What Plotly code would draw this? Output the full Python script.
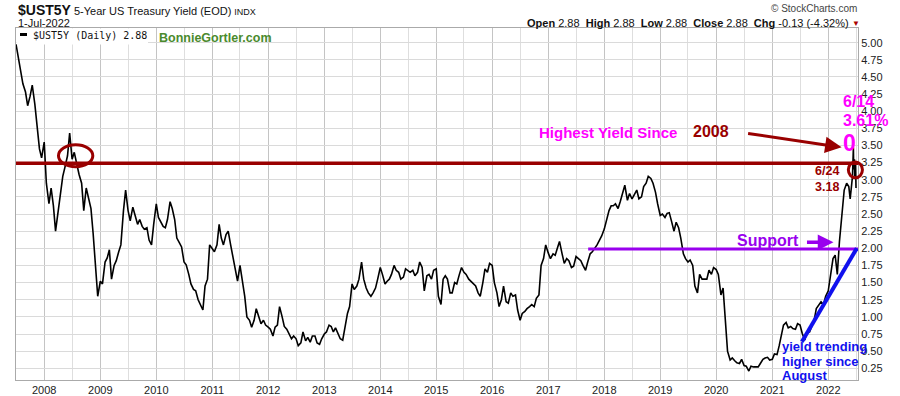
import pandas as pd
import plotly.graph_objects as go

# ---------------- data (semi-monthly: 1st & 15th) ----------------
y2007 = [4.98, 4.80, 4.60, 4.40, 4.28, 4.08, 4.22, 4.38, 4.10, 3.80, 3.45, 3.32]
y2008 = [3.55, 2.95, 2.65, 2.88, 2.62, 2.25, 2.55, 2.80, 3.05, 3.18, 3.35, 3.68,
         3.30, 3.40, 3.22, 3.08, 2.95, 2.55, 2.88, 2.72, 2.58, 2.22, 1.72, 1.30]
y2009 = [1.52, 1.48, 1.80, 1.86, 1.98, 1.55, 1.75, 1.82, 1.95, 2.05, 2.55, 2.85,
         2.55, 2.40, 2.60, 2.48, 2.35, 2.42, 2.32, 2.28, 2.30, 2.12, 2.05, 2.35]
y2010 = [2.65, 2.45, 2.38, 2.32, 2.30, 2.42, 2.68, 2.58, 2.42, 2.15, 2.08, 2.02,
         1.80, 1.76, 1.62, 1.48, 1.40, 1.38, 1.25, 1.18, 1.10, 1.45, 1.55, 2.05]
y2011 = [2.00, 1.95, 2.05, 2.35, 2.15, 2.05, 2.20, 2.25, 2.05, 1.90, 1.70, 1.52,
         1.75, 1.55, 1.30, 1.00, 0.95, 0.85, 0.95, 1.12, 1.00, 0.90, 0.95, 0.88]
y2012 = [0.85, 0.82, 0.72, 0.85, 0.88, 1.15, 1.00, 0.86, 0.82, 0.75, 0.68, 0.72,
         0.68, 0.58, 0.62, 0.78, 0.65, 0.70, 0.63, 0.72, 0.72, 0.62, 0.60, 0.68]
y2013 = [0.75, 0.78, 0.88, 0.86, 0.78, 0.84, 0.76, 0.68, 0.66, 0.85, 1.05, 1.15,
         1.48, 1.40, 1.45, 1.55, 1.80, 1.55, 1.42, 1.35, 1.30, 1.35, 1.42, 1.55]
y2014 = [1.72, 1.62, 1.48, 1.52, 1.55, 1.62, 1.75, 1.68, 1.65, 1.55, 1.58, 1.70,
         1.68, 1.65, 1.68, 1.60, 1.65, 1.80, 1.72, 1.38, 1.60, 1.62, 1.55, 1.68]
y2015 = [1.70, 1.30, 1.18, 1.55, 1.60, 1.55, 1.35, 1.35, 1.50, 1.48, 1.62, 1.72,
         1.65, 1.62, 1.55, 1.52, 1.48, 1.45, 1.35, 1.30, 1.50, 1.70, 1.65, 1.78]
y2016 = [1.75, 1.50, 1.35, 1.15, 1.25, 1.45, 1.22, 1.20, 1.35, 1.30, 1.32, 1.10,
         0.95, 1.05, 1.08, 1.12, 1.15, 1.18, 1.15, 1.27, 1.32, 1.75, 1.85, 2.05]
y2017 = [1.93, 1.85, 1.92, 1.90, 2.00, 2.10, 1.92, 1.78, 1.85, 1.82, 1.72, 1.74,
         1.88, 1.85, 1.82, 1.75, 1.68, 1.80, 1.92, 1.95, 2.00, 2.05, 2.12, 2.18]
y2018 = [2.28, 2.42, 2.55, 2.62, 2.62, 2.65, 2.58, 2.68, 2.80, 2.92, 2.70, 2.80,
         2.72, 2.78, 2.85, 2.72, 2.75, 2.90, 2.95, 3.05, 3.02, 2.95, 2.82, 2.65]
y2019 = [2.48, 2.50, 2.45, 2.51, 2.52, 2.40, 2.25, 2.38, 2.30, 2.15, 1.92, 1.85,
         1.80, 1.83, 1.75, 1.45, 1.35, 1.62, 1.55, 1.55, 1.55, 1.68, 1.62, 1.72]
y2020 = [1.69, 1.62, 1.32, 1.42, 0.90, 0.50, 0.37, 0.40, 0.36, 0.33, 0.32, 0.38,
         0.29, 0.28, 0.21, 0.28, 0.27, 0.27, 0.27, 0.32, 0.38, 0.40, 0.41, 0.37]
y2021 = [0.38, 0.46, 0.45, 0.58, 0.75, 0.88, 0.92, 0.84, 0.86, 0.83, 0.82, 0.90,
         0.88, 0.76, 0.66, 0.78, 0.78, 0.86, 0.95, 1.12, 1.18, 1.22, 1.18, 1.30]
y2022 = [1.38, 1.58, 1.85, 1.90, 1.62, 2.10, 2.55, 2.85, 2.95, 2.90]

tail_dates = ["2022-05-24", "2022-06-01", "2022-06-08", "2022-06-14", "2022-06-16",
              "2022-06-21", "2022-06-23", "2022-06-24", "2022-06-28", "2022-06-30",
              "2022-07-01"]
tail_vals = [2.72, 2.95, 3.05, 3.47, 3.15, 3.30, 3.05, 3.18, 3.22, 3.00, 2.88]

year_ticks = [str(y) for y in range(2008, 2023)]
resistance_level = 3.24
support_level = 1.99

semi_dates = pd.date_range("2007-07-01", "2022-05-15", freq="SMS")
semi_vals = (y2007 + y2008 + y2009 + y2010 + y2011 + y2012 + y2013 + y2014 +
             y2015 + y2016 + y2017 + y2018 + y2019 + y2020 + y2021 + y2022)
assert len(semi_dates) == len(semi_vals), (len(semi_dates), len(semi_vals))
dates = list(semi_dates.strftime("%Y-%m-%d")) + tail_dates
values = semi_vals + tail_vals

# ---------------- layout geometry ----------------
W, H = 900, 396
ML, MR, MT, MB = 16, 42, 28, 16
PW, PH = W - ML - MR, H - MT - MB
X0, X1 = "2007-07-01", "2022-07-14"
Y0, Y1 = 0.079, 5.214


def px(x):
    return (x - ML) / PW


def py(y):
    return (H - MB - y) / PH


def xp(d):
    return (pd.Timestamp(d) - pd.Timestamp(X0)) / (pd.Timestamp(X1) - pd.Timestamp(X0))


FONT = "Arial, Liberation Sans, sans-serif"
MAG = "#ff00ff"
DRED = "#990000"
PURP = "#9900ee"
BLUE = "#1010ee"

fig = go.Figure()
fig.add_trace(go.Scatter(x=dates, y=values, mode="lines",
                         line=dict(color="black", width=1.6), showlegend=False,
                         hoverinfo="skip"))

shapes = [
    # legend box
    dict(type="rect", xref="paper", yref="paper", x0=px(16.5), x1=px(148), y0=py(44.5), y1=py(28.5),
         fillcolor="white", line=dict(width=0), layer="above"),
    dict(type="line", xref="paper", yref="paper", x0=px(20), x1=px(27), y0=py(34.5), y1=py(34.5),
         line=dict(color="black", width=3)),
    # resistance line
    dict(type="line", xref="paper", yref="y", x0=0, x1=1, y0=resistance_level, y1=resistance_level,
         line=dict(color=DRED, width=3.5)),
    # support line
    dict(type="line", xref="x", yref="y", x0="2017-09-18", x1=X1, y0=support_level, y1=support_level,
         line=dict(color=PURP, width=3)),
    # trend line
    dict(type="line", xref="x", yref="y", x0="2021-07-13", y0=0.638, x1="2022-07-06", y1=2.0,
         line=dict(color=BLUE, width=4)),
    # circles
    dict(type="circle", xref="x", yref="y", x0="2008-04-03", x1="2008-11-13", y0=3.19, y1=3.51,
         line=dict(color=DRED, width=3)),
    dict(type="circle", xref="paper", yref="y", x0=xp("2022-05-12"), x1=xp("2022-08-12"),
         y0=3.03, y1=3.26, line=dict(color=DRED, width=3)),
]

ann = [
    dict(x=px(16), y=py(10), xref="paper", yref="paper", xanchor="left", yanchor="middle",
         text="<span style='font-size:14px'><b>$UST5Y</b></span> 5-Year US Treasury Yield (EOD) "
              "<span style='font-size:9px'>INDX</span>",
         font=dict(family=FONT, size=11, color="#111")),
    dict(x=px(16), y=py(23), xref="paper", yref="paper", xanchor="left", yanchor="middle",
         text="1-Jul-2022", font=dict(family=FONT, size=11, color="#111")),
    dict(x=px(859), y=py(8.5), xref="paper", yref="paper", xanchor="right", yanchor="middle",
         text="© StockCharts.com", font=dict(family=FONT, size=10, color="#444")),
    dict(x=px(851), y=py(22.5), xref="paper", yref="paper", xanchor="right", yanchor="middle",
         text="<b>Open</b> 2.88&nbsp; <b>High</b> 2.88&nbsp; <b>Low</b> 2.88&nbsp; "
              "<b>Close</b> 2.88&nbsp; <b>Chg</b> -0.13 (-4.32%)",
         font=dict(family=FONT, size=11, color="#111")),
    dict(x=px(856), y=py(23), xref="paper", yref="paper", xanchor="center", yanchor="middle",
         text="▼", font=dict(family=FONT, size=8, color="#aa0000")),
    dict(x=px(31), y=py(35.5), xref="paper", yref="paper", xanchor="left", yanchor="middle",
         text="$UST5Y (Daily) 2.88", font=dict(family="DejaVu Sans Mono, monospace", size=10, color="#111")),
    dict(x=px(157), y=py(37.5), xref="paper", yref="paper", xanchor="left", yanchor="middle",
         text="<b>BonnieGortler.com</b>", font=dict(family=FONT, size=12.5, color="#4a8a2c")),
    # chart notes
    dict(x="2018-01-23", y=3.687, xanchor="center", yanchor="middle",
         text="<b>Highest Yield Since</b>", font=dict(family=FONT, size=15, color=MAG)),
    dict(x="2019-12-01", y=3.697, xanchor="center", yanchor="middle",
         text="<b>2008</b>", font=dict(family=FONT, size=16, color=DRED)),
    dict(x="2022-03-22", y=4.135, xanchor="left", yanchor="middle",
         text="<b>6/14</b>", font=dict(family=FONT, size=16, color=MAG)),
    dict(x="2022-03-22", y=3.858, xanchor="left", yanchor="middle",
         text="<b>3.61%</b>", font=dict(family=FONT, size=16, color=MAG)),
    dict(x="2022-05-17", y=3.53, xanchor="center", yanchor="middle",
         text="<b>0</b>", font=dict(family=FONT, size=23, color=MAG)),
    dict(x="2021-09-23", y=3.128, xanchor="left", yanchor="middle",
         text="<b>6/24</b>", font=dict(family=FONT, size=12.5, color=DRED)),
    dict(x="2021-09-23", y=2.899, xanchor="left", yanchor="middle",
         text="<b>3.18</b>", font=dict(family=FONT, size=12.5, color=DRED)),
    dict(x="2020-12-02", y=2.11, xanchor="center", yanchor="middle",
         text="<b>Support</b>", font=dict(family=FONT, size=16, color=PURP)),
    dict(x="2021-02-22", y=0.565, xanchor="left", yanchor="middle",
         text="<b>yield trending</b>", font=dict(family=FONT, size=13, color=BLUE)),
    dict(x="2021-02-22", y=0.346, xanchor="left", yanchor="middle",
         text="<b>higher since</b>", font=dict(family=FONT, size=13, color=BLUE)),
    dict(x="2021-02-22", y=0.152, xanchor="left", yanchor="middle",
         text="<b>August</b>", font=dict(family=FONT, size=13, color=BLUE)),
]
for a in ann:
    a.setdefault("xref", "x")
    a.setdefault("yref", "y")
    a["showarrow"] = False

ann += [
    dict(x="2022-03-29", y=3.474, xref="x", yref="y", ax=-95, ay=-14, text="",
         showarrow=True, arrowhead=2, arrowsize=1.1, arrowwidth=3, arrowcolor=DRED, standoff=0),
    dict(x="2022-02-04", y=2.088, xref="x", yref="y", ax=-28, ay=0, text="",
         showarrow=True, arrowhead=2, arrowsize=0.9, arrowwidth=3.5, arrowcolor=PURP, standoff=0),
]

fig.update_layout(
    width=W, height=H,
    margin=dict(l=ML, r=MR, t=MT, b=MB, autoexpand=False),
    paper_bgcolor="white", plot_bgcolor="white",
    font=dict(family=FONT, size=11, color="#222"),
    shapes=shapes, annotations=ann,
    hovermode=False,
    xaxis=dict(type="date", range=[X0, X1],
               tickvals=[f"{y}-01-01" for y in year_ticks], ticktext=year_ticks,
               showgrid=True, gridcolor="#c4c4c4", gridwidth=1,
               minor=dict(dtick="M6", tick0="2007-07-01", showgrid=True, gridcolor="#dedede"),
               showline=True, linecolor="#aaaaaa", mirror=True, ticks="",
               tickfont=dict(size=11, color="#222"), zeroline=False, automargin=False),
    yaxis=dict(range=[Y0, Y1], side="right", dtick=0.25, tick0=0, tickformat=".2f",
               showgrid=True, gridcolor="#dadada", gridwidth=1,
               showline=True, linecolor="#aaaaaa", mirror=True, ticks="",
               tickfont=dict(size=11, color="#222"), zeroline=False, automargin=False),
    showlegend=False,
)

fig.write_html("out.html", config={"displayModeBar": False},
               post_script="document.body.style.margin='0';")
